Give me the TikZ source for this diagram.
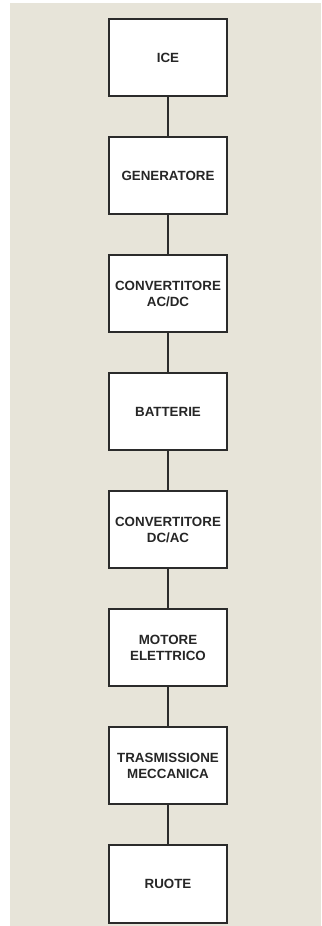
\documentclass[tikz,border=0pt]{standalone}
\usepackage{fontspec}
\setmainfont{Liberation Sans}
\usepackage{xcolor}
\definecolor{bgbeige}{HTML}{E7E4D9}
\definecolor{boxline}{HTML}{2B2B2B}

\begin{document}
\begin{tikzpicture}[
    x=1bp, y=1bp,
    font=\fontsize{13.4}{16.5}\selectfont\bfseries,
    box/.style={draw=boxline, line width=2bp, fill=white, minimum width=118bp,
      minimum height=77bp, align=center, inner sep=2pt, text=black!85},
    link/.style={draw=boxline, line width=2bp},
  ]
    \useasboundingbox (0,0) rectangle (321,926);
    \fill[bgbeige] (10,0) rectangle (321,923);
    % Chain of blocks, top to bottom
    \node[box] (ice)   at (168,868) {ICE};
    \node[box] (gen)   at (168,750) {GENERATORE};
    \node[box] (acdc)  at (168,632) {CONVERTITORE\\AC/DC};
    \node[box] (batt)  at (168,514) {BATTERIE};
    \node[box] (dcac)  at (168,396) {CONVERTITORE\\DC/AC};
    \node[box] (mot)   at (168,278) {MOTORE\\ELETTRICO};
    \node[box] (trasm) at (168,160) {TRASMISSIONE\\MECCANICA};
    \node[box] (ruote) at (168,42)  {RUOTE};
    % Connecting lines
    \draw[link] (ice)   -- (gen);
    \draw[link] (gen)   -- (acdc);
    \draw[link] (acdc)  -- (batt);
    \draw[link] (batt)  -- (dcac);
    \draw[link] (dcac)  -- (mot);
    \draw[link] (mot)   -- (trasm);
    \draw[link] (trasm) -- (ruote);
  \end{tikzpicture}
\end{document}
